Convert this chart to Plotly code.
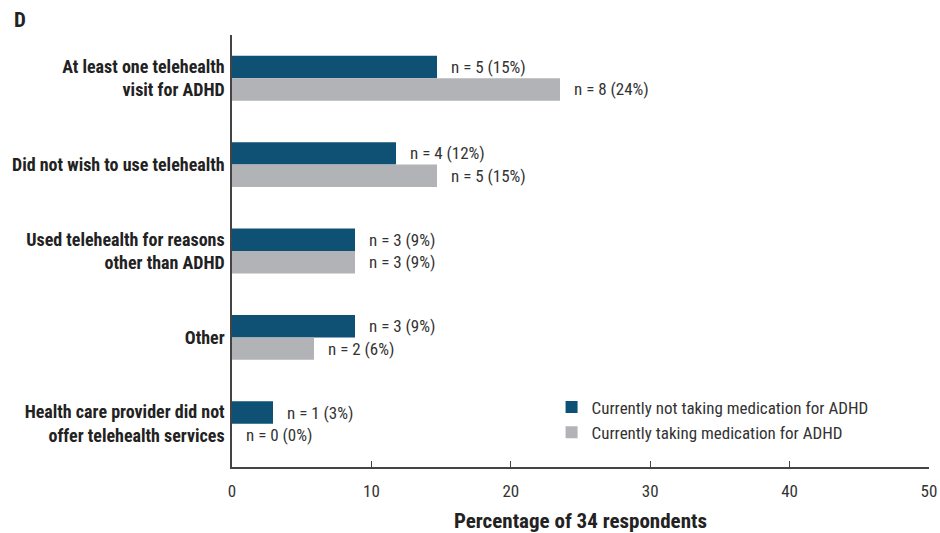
import plotly.graph_objects as go

categories = [
    "At least one telehealth<br>visit for ADHD",
    "Did not wish to use telehealth",
    "Used telehealth for reasons<br>other than ADHD",
    "Other",
    "Health care provider did not<br>offer telehealth services",
]
total = 34
n_not_taking = [5, 4, 3, 3, 1]
n_taking = [8, 5, 3, 2, 0]
labels_not_taking = ["n = 5 (15%)", "n = 4 (12%)", "n = 3 (9%)", "n = 3 (9%)", "n = 1 (3%)"]
labels_taking = ["n = 8 (24%)", "n = 5 (15%)", "n = 3 (9%)", "n = 2 (6%)", "n = 0 (0%)"]
series_names = ["Currently not taking medication for ADHD", "Currently taking medication for ADHD"]
x_ticks = [0, 10, 20, 30, 40, 50]

pct_not = [v / total * 100 for v in n_not_taking]
pct_tak = [v / total * 100 for v in n_taking]

FONT = "Liberation Sans Narrow, Roboto Condensed, Arial Narrow, Roboto, sans-serif"
DARK = "#0F5174"
GRAY = "#B1B3B6"
TXT = "#333333"

L, R, T, B = 232, 11, 35, 66
PW, PH = 940 - L - R, 533 - T - B

fig = go.Figure()
fig.add_trace(go.Bar(y=categories, x=pct_not, orientation="h", name=series_names[0],
                     marker=dict(color=DARK, line=dict(width=0))))
fig.add_trace(go.Bar(y=categories, x=pct_tak, orientation="h", name=series_names[1],
                     marker=dict(color=GRAY, line=dict(width=0))))

bargap = 0.48
w = (1 - bargap) / 2
for i, cat in enumerate(categories):
    for val, lab, off in ((pct_not[i], labels_not_taking[i], -w / 2), (pct_tak[i], labels_taking[i], w / 2)):
        fig.add_annotation(x=val, y=i + off, yref="y", xref="x", text=lab, showarrow=False,
                           xanchor="left", yanchor="middle", xshift=12,
                           font=dict(family=FONT, size=17, color=TXT))

fig.add_annotation(x=(12 - L) / PW, y=1 + (T - 20) / PH, xref="paper", yref="paper",
                   text="<b>D</b>", showarrow=False, xanchor="left", yanchor="middle",
                   font=dict(family=FONT, size=21, color="#222222"))

fig.update_layout(
    width=940, height=533,
    margin=dict(l=L, r=R, t=T, b=B, autoexpand=False),
    paper_bgcolor="white", plot_bgcolor="white",
    barmode="group", bargap=bargap, bargroupgap=0,
    font=dict(family=FONT, size=17, color=TXT),
    showlegend=True,
    legend=dict(x=0.4585, y=(467 - 420) / PH, xanchor="left", yanchor="middle",
                bgcolor="rgba(0,0,0,0)", font=dict(family=FONT, size=17, color=TXT),
                itemwidth=30, tracegroupgap=0),
    xaxis=dict(range=[0, 50], tickvals=x_ticks, showgrid=False, zeroline=False,
               showline=True, linecolor="#444444", linewidth=1.5,
               ticks="inside", ticklen=6, tickcolor="#444444",
               ticklabelstandoff=8,
               tickfont=dict(family=FONT, size=17, color=TXT),
               title=dict(text="<b>Percentage of 34 respondents</b>", standoff=13,
                          font=dict(family=FONT, size=21, color="#222222"))),
    yaxis=dict(type="category", autorange="reversed", showgrid=False, zeroline=False,
               showline=True, linecolor="#444444", linewidth=1.5, ticks="",
               ticklabelstandoff=2,
               tickfont=dict(family=FONT, size=18, color="#222222")),
)
fig.update_yaxes(ticktext=["<b>" + c + "</b>" for c in categories], tickvals=categories)

fig.write_html("out.html", config={"displayModeBar": False},
               post_script="document.body.style.margin='0';document.body.style.overflow='hidden';")
